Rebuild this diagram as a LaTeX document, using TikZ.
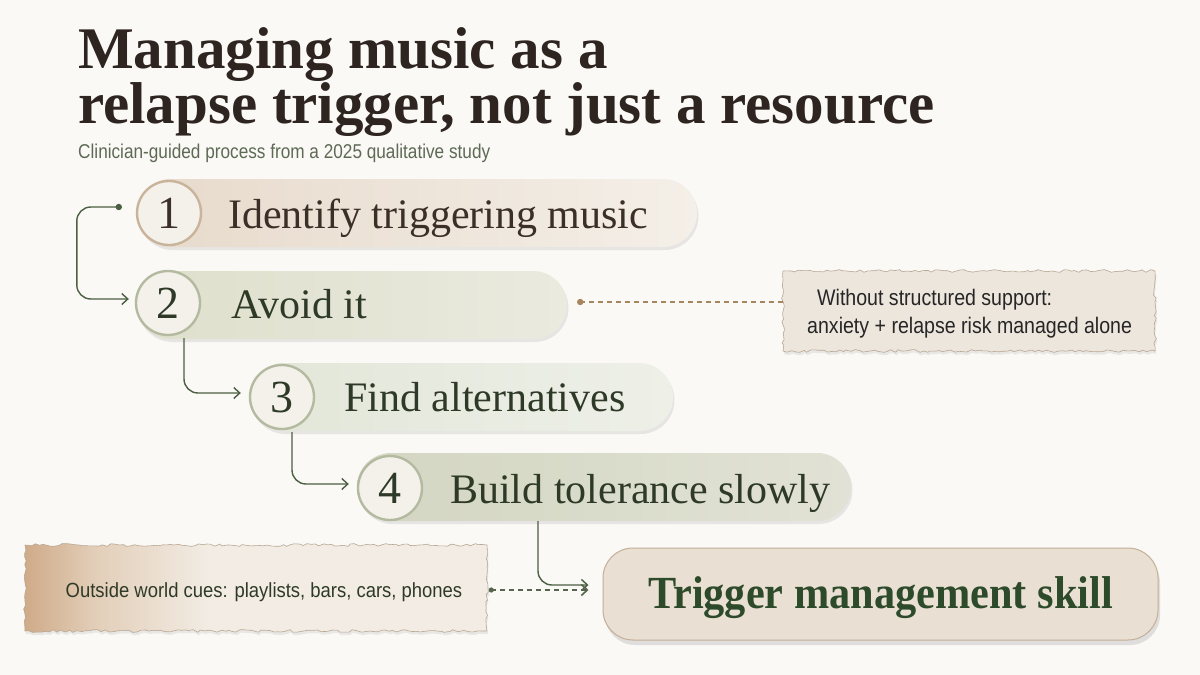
\documentclass[tikz,border=0pt]{standalone}
\usepackage{fontspec}
\setmainfont{Liberation Serif}
\newfontfamily\sansf[FakeStretch=0.87]{Liberation Sans}
\newfontfamily\narrowf[FakeStretch=0.86]{Liberation Sans}
\newfontfamily\cuesf[FakeStretch=0.9]{Liberation Sans}
\newfontfamily\finalf[FakeStretch=0.92]{Liberation Serif}
\usetikzlibrary{shadows,decorations.pathmorphing,arrows.meta}
\definecolor{bgcol}{HTML}{FAF9F6}
\definecolor{titlecol}{HTML}{2E2420}
\definecolor{subcol}{HTML}{5E6A55}
\definecolor{conncol}{HTML}{4B5F42}
\definecolor{circA}{HTML}{C9B49B}
\definecolor{circB}{HTML}{B4BAA0}
\definecolor{numfill}{HTML}{F4F1EB}
\definecolor{brtext}{HTML}{3B2F27}
\definecolor{grtext}{HTML}{2E3A27}
\definecolor{pAl}{HTML}{E7DACB}
\definecolor{pAr}{HTML}{F4EFE8}
\definecolor{pBl}{HTML}{DEDFCB}
\definecolor{pBr}{HTML}{EAEADF}
\definecolor{pCl}{HTML}{E2E6D8}
\definecolor{pCr}{HTML}{EEF0E8}
\definecolor{pDl}{HTML}{D3D6C1}
\definecolor{pDr}{HTML}{E1E2D5}
\definecolor{finfill}{HTML}{EADFD3}
\definecolor{finborder}{HTML}{C4AF98}
\definecolor{fintext}{HTML}{2D4A2B}
\definecolor{notefill}{HTML}{EDE6DD}
\definecolor{noteborder}{HTML}{B8A793}
\definecolor{dashcol}{HTML}{A5865F}
\definecolor{tornbrown}{HTML}{CFAA88}
\definecolor{tornmid}{HTML}{E3CFBA}
\definecolor{tornlight}{HTML}{F2ECE4}
\pgfdeclarehorizontalshading{tornleft}{100bp}{color(0bp)=(tornbrown); color(25bp)=(tornbrown); color(33bp)=(tornmid); color(45bp)=(tornlight); color(100bp)=(tornlight)}
\begin{document}
\begin{tikzpicture}[x=1pt,y=1pt,
  pill/.style={rounded corners=34pt, minimum height=68pt, inner sep=0pt,
    drop shadow={opacity=0.16, shadow xshift=1.5pt, shadow yshift=-3pt}},
  numc/.style={circle, minimum size=64pt, inner sep=0pt, line width=2.4pt,
    fill=numfill, font=\fontsize{46}{46}\selectfont},
  steptxt/.style={anchor=base west, font=\fontsize{42}{42}\selectfont},
  conn/.style={draw=conncol, line width=1.4pt, rounded corners=14pt,
    -{Straight Barb[length=6pt,width=11pt]}},
  torn/.style={decorate, decoration={random steps, segment length=4pt, amplitude=1.4pt},
    draw=noteborder, line width=0.6pt, inner sep=0pt,
    drop shadow={opacity=0.14, shadow xshift=1pt, shadow yshift=-3pt}}
]
\fill[bgcol] (0,0) rectangle (1200,-675);
\useasboundingbox (0,0) rectangle (1200,-675);

% title
\node[anchor=base west, text=titlecol, font=\fontsize{59}{59}\selectfont\bfseries, inner sep=0pt] (title1) at (78,-68) {Managing music as a};
\node[anchor=base west, text=titlecol, font=\fontsize{59}{59}\selectfont\bfseries, inner sep=0pt] (title2) at (78,-123) {relapse trigger, not just a resource};
\node[anchor=base west, text=subcol, font=\narrowf\fontsize{20}{20}\selectfont, inner sep=0pt] (sub) at (78,-158) {Clinician-guided process from a 2025 qualitative study};

% pills
\node[pill, minimum width=560pt, left color=pAl, right color=pAr] (p1) at (417,-213) {};
\node[pill, minimum width=430pt, left color=pBl, right color=pBr] (p2) at (352,-305) {};
\node[pill, minimum width=423pt, left color=pCl, right color=pCr] (p3) at (461.5,-397) {};
\node[pill, minimum width=494pt, left color=pDl, right color=pDr] (p4) at (604,-487) {};

\node[numc, draw=circA, text=brtext] (c1) at (169,-213) {1};
\node[numc, draw=circB, text=grtext] (c2) at (168,-303) {2};
\node[numc, draw=circB, text=grtext] (c3) at (282,-397) {3};
\node[numc, draw=circB, text=grtext] (c4) at (390,-488) {4};

\node[steptxt, text=brtext, inner sep=0pt] (t1) at (228,-228) {Identify triggering music};
\node[steptxt, text=grtext, inner sep=0pt] (t2) at (231,-318) {Avoid it};
\node[steptxt, text=grtext, inner sep=0pt] (t3) at (344,-411) {Find alternatives};
\node[steptxt, text=grtext, inner sep=0pt] (t4) at (450,-503) {Build tolerance slowly};

% final
\node[rounded corners=30pt, minimum width=555pt, minimum height=92pt, inner sep=0pt,
  fill=finfill, draw=finborder, line width=1pt,
  drop shadow={opacity=0.22, shadow xshift=2pt, shadow yshift=-5pt}] (fin) at (880.5,-594) {};
\node[anchor=base, text=fintext, font=\finalf\fontsize{46}{46}\selectfont\bfseries, inner sep=0pt] (fint) at (fin.center |- 0,-608) {Trigger management skill};

% notes
\node[torn, fill=notefill, minimum width=372pt, minimum height=80pt] (noteR) at (969,-311) {};
\node[anchor=base west, text=black!85, font=\sansf\fontsize{22.5}{22.5}\selectfont, inner sep=0pt] (noteRt1) at (817,-305) {Without structured support:};
\node[anchor=base west, text=black!85, font=\sansf\fontsize{22.5}{22.5}\selectfont, inner sep=0pt] (noteRt2) at (807,-333) {anxiety + relapse risk managed alone};

\node[torn, shading=tornleft, minimum width=462pt, minimum height=86pt] (noteL) at (256,-588) {};
\node[text=grtext, font=\cuesf\fontsize{20.5}{20.5}\selectfont, inner sep=0pt, anchor=base] (noteLt) at (264,-597) {Outside world cues: playlists, bars, cars, phones};

% connectors
\coordinate (s1) at ([xshift=-17pt,yshift=6pt]c1.west);
\fill[conncol] (s1) circle (3.2pt);
\draw[conn] (s1) -- ++(-42,0) |- ([xshift=-6pt,yshift=4pt]c2.west);
\draw[conn] ([xshift=16pt,yshift=-2pt]c2.south) |- ([xshift=-8pt,yshift=4pt]c3.west);
\draw[conn] ([xshift=10pt,yshift=-2pt]c3.south) |- ([xshift=-8pt,yshift=4pt]c4.west);
\draw[conn] ([xshift=-66pt]p4.south) |- ([xshift=-14pt,yshift=9pt]fin.west);

\coordinate (d2) at ([xshift=13pt,yshift=3pt]p2.east);
\fill[dashcol] (d2) circle (3.2pt);
\draw[dashcol, line width=1.2pt, dash pattern=on 5pt off 4pt] (d2) -- (d2 -| noteR.west);

\coordinate (dL) at ([xshift=4pt,yshift=-2pt]noteL.east);
\fill[conncol!80!gray] (dL) circle (2.6pt);
\draw[conncol!80!gray, line width=1.6pt, dash pattern=on 5pt off 4pt,
  -{Straight Barb[length=6pt,width=11pt]}] (dL) -- ([xshift=-14pt]dL -| fin.west);
\end{tikzpicture}
\end{document}
